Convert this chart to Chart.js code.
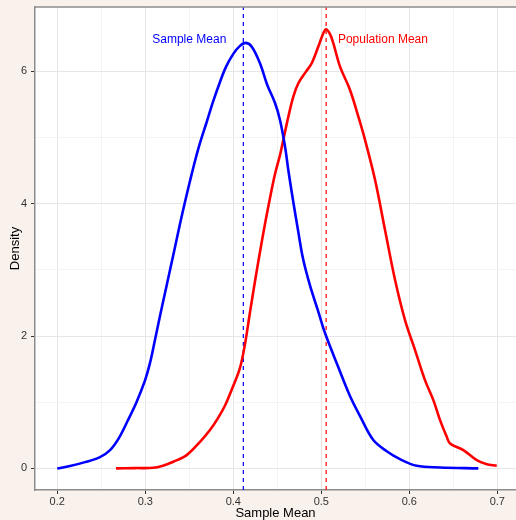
<!DOCTYPE html>
<html>
<head>
<meta charset="utf-8">
<script src="https://cdn.jsdelivr.net/npm/chart.js@4.4.0/dist/chart.umd.min.js"></script>
<style>
  html, body { margin: 0; padding: 0; background: #f9f1ec; }
  #wrap { width: 516px; height: 520px; }
</style>
</head>
<body>
<div id="wrap"><canvas id="densityChart" width="516" height="520"></canvas></div>
<script>
// density of sample means (blue)
const sampleX = [0.200, 0.2144, 0.2315, 0.2485, 0.260, 0.270, 0.280, 0.290, 0.2997, 0.3053, 0.311, 0.3167,
  0.3224, 0.3281, 0.3338, 0.3394, 0.3451, 0.3508, 0.3565, 0.3622, 0.3698, 0.3773, 0.3849, 0.3917, 0.400,
  0.4076, 0.4144, 0.4212, 0.4303, 0.4386, 0.4474, 0.4531, 0.4588, 0.4625, 0.4678, 0.4735, 0.4792, 0.4872,
  0.4963, 0.5042, 0.519, 0.5327, 0.544, 0.5591, 0.5743, 0.5894, 0.6084, 0.6349, 0.6784];
const sampleY = [0.00, 0.035, 0.095, 0.171, 0.277, 0.458, 0.720, 1.000, 1.330, 1.590, 1.940, 2.302,
  2.649, 2.997, 3.345, 3.692, 4.025, 4.342, 4.644, 4.916, 5.233, 5.551, 5.838, 6.065, 6.262,
  6.383, 6.428, 6.367, 6.121, 5.793, 5.520, 5.260, 4.860, 4.508, 4.055, 3.601, 3.170, 2.760,
  2.380, 2.045, 1.540, 1.090, 0.790, 0.428, 0.260, 0.140, 0.039, 0.015, 0.00];

// density of the population (red)
const popX = [0.2667, 0.2883, 0.3091, 0.3201, 0.3318, 0.347, 0.3622, 0.3735, 0.3826, 0.3906, 0.3985,
  0.4076, 0.4133, 0.419, 0.4247, 0.4303, 0.436, 0.4417, 0.4474, 0.4531, 0.4568, 0.4625, 0.4682, 0.4739,
  0.4826, 0.4891, 0.4966, 0.5009, 0.5053, 0.5099, 0.5136, 0.5213, 0.5326, 0.5421, 0.5497, 0.5611, 0.5724,
  0.5838, 0.5951, 0.6065, 0.6178, 0.6273, 0.6349, 0.6425, 0.6462, 0.6614, 0.6766, 0.6872, 0.6993];
const popY = [0.00, 0.005, 0.009, 0.042, 0.100, 0.201, 0.402, 0.579, 0.760, 0.950, 1.200,
  1.520, 1.880, 2.362, 2.831, 3.269, 3.692, 4.085, 4.448, 4.735, 4.962, 5.310, 5.616, 5.818,
  5.994, 6.121, 6.372, 6.529, 6.634, 6.559, 6.423, 6.069, 5.717, 5.314, 4.962, 4.357, 3.601,
  2.846, 2.241, 1.788, 1.334, 1.032, 0.730, 0.478, 0.378, 0.277, 0.125, 0.068, 0.039];

const meanValues = [0.4114, 0.5055];
const meanNames = ['Sample Mean', 'Population Mean'];
const meanColors = ['#0000ff', '#ff0000'];
const labelX = [0.35, 0.57];
const labelY = 6.48;

const xMajor = [0.2, 0.3, 0.4, 0.5, 0.6, 0.7];
const xMajorLabels = ['0.2', '0.3', '0.4', '0.5', '0.6', '0.7'];
const xMinor = [0.25, 0.35, 0.45, 0.55, 0.65];
const yMajor = [0, 2, 4, 6];
const yMajorLabels = ['0', '2', '4', '6'];
const yMinor = [1, 3, 5];

const xRange = [0.1747, 0.7212];
const yRange = [-0.326, 6.97];

const FONT = '"Liberation Sans", Arial, sans-serif';

function isMajor(list, v) {
    return list.some(m => Math.abs(m - v) < 1e-9);
}

function tickSetter(major, minor) {
    return scale => {
        scale.ticks = major.concat(minor).sort((a, b) => a - b).map(v => ({ value: v }));
    };
}

function labelFor(major, labels) {
    return value => {
        const i = major.findIndex(m => Math.abs(m - value) < 1e-9);
        return i >= 0 ? labels[i] : '';
    };
}

const panelPlugin = {
    id: 'panel',
    beforeDraw(chart) {
        const { ctx, chartArea: a } = chart;
        ctx.save();
        ctx.fillStyle = '#f9f1ec';
        ctx.fillRect(0, 0, chart.width, chart.height);
        ctx.fillStyle = '#ffffff';
        ctx.fillRect(a.left, a.top, a.right - a.left, a.bottom - a.top);
        ctx.restore();
    },
    afterDraw(chart) {
        const { ctx, chartArea: a, scales } = chart;
        ctx.save();
        // top edge of the panel
        ctx.strokeStyle = '#8c8c8c';
        ctx.lineWidth = 1.5;
        ctx.beginPath();
        ctx.moveTo(a.left, a.top);
        ctx.lineTo(a.right, a.top);
        ctx.stroke();

        // mean labels
        ctx.font = '12px ' + FONT;
        ctx.textAlign = 'center';
        ctx.textBaseline = 'middle';
        meanNames.forEach((name, i) => {
            ctx.fillStyle = meanColors[i];
            ctx.fillText(name, scales.x.getPixelForValue(labelX[i]), scales.y.getPixelForValue(labelY));
        });
        ctx.restore();
    }
};

const datasets = [
    {
        data: sampleX.map((x, i) => ({ x: x, y: sampleY[i] })),
        borderColor: '#0000ff',
        borderWidth: 2.6,
        showLine: true,
        pointRadius: 0,
        tension: 0.35
    },
    {
        data: popX.map((x, i) => ({ x: x, y: popY[i] })),
        borderColor: '#ff0000',
        borderWidth: 2.6,
        showLine: true,
        pointRadius: 0,
        tension: 0.35
    }
];

meanValues.forEach((m, i) => {
    datasets.push({
        data: [{ x: m, y: yRange[0] }, { x: m, y: yRange[1] }],
        borderColor: meanColors[i],
        borderWidth: 1.2,
        borderDash: [4, 4],
        showLine: true,
        pointRadius: 0
    });
});

const ctx = document.getElementById('densityChart').getContext('2d');
const chart = new Chart(ctx, {
    type: 'scatter',
    data: { datasets: datasets },
    plugins: [panelPlugin],
    options: {
        responsive: false,
        animation: false,
        devicePixelRatio: 1,
        layout: { padding: { top: 7, right: 0, left: 0, bottom: 0 } },
        plugins: {
            legend: { display: false },
            tooltip: { enabled: false }
        },
        scales: {
            x: {
                type: 'linear',
                min: xRange[0],
                max: xRange[1],
                afterBuildTicks: tickSetter(xMajor, xMinor),
                afterFit: scale => {
                    scale.height = 30;
                    scale.paddingLeft = 0;
                    scale.paddingRight = 0;
                },
                ticks: {
                    autoSkip: false,
                    maxRotation: 0,
                    padding: 1,
                    color: '#333333',
                    font: { family: FONT, size: 11 },
                    callback: labelFor(xMajor, xMajorLabels)
                },
                grid: {
                    color: c => isMajor(xMajor, c.tick.value) ? '#e6e6e6' : '#f3f3f3',
                    tickColor: c => isMajor(xMajor, c.tick.value) ? '#333333' : 'rgba(0,0,0,0)',
                    tickLength: 4,
                    lineWidth: 1
                },
                border: { color: '#8c8c8c', width: 1.5 },
                title: {
                    display: true,
                    text: 'Sample Mean',
                    color: '#000000',
                    font: { family: FONT, size: 13 },
                    padding: { top: 0, bottom: -1 }
                }
            },
            y: {
                type: 'linear',
                min: yRange[0],
                max: yRange[1],
                afterBuildTicks: tickSetter(yMajor, yMinor),
                afterFit: scale => {
                    scale.width = 35;
                    scale.paddingTop = 0;
                    scale.paddingBottom = 0;
                },
                ticks: {
                    autoSkip: false,
                    padding: 4,
                    color: '#333333',
                    font: { family: FONT, size: 11 },
                    callback: labelFor(yMajor, yMajorLabels)
                },
                grid: {
                    color: c => isMajor(yMajor, c.tick.value) ? '#e6e6e6' : '#f3f3f3',
                    tickColor: c => isMajor(yMajor, c.tick.value) ? '#333333' : 'rgba(0,0,0,0)',
                    tickLength: 4,
                    lineWidth: 1
                },
                border: { color: '#8c8c8c', width: 1.5 },
                title: {
                    display: true,
                    text: 'Density',
                    color: '#000000',
                    font: { family: FONT, size: 13 },
                    padding: { top: 8, bottom: 0 }
                }
            }
        }
    }
});
</script>
</body>
</html>
